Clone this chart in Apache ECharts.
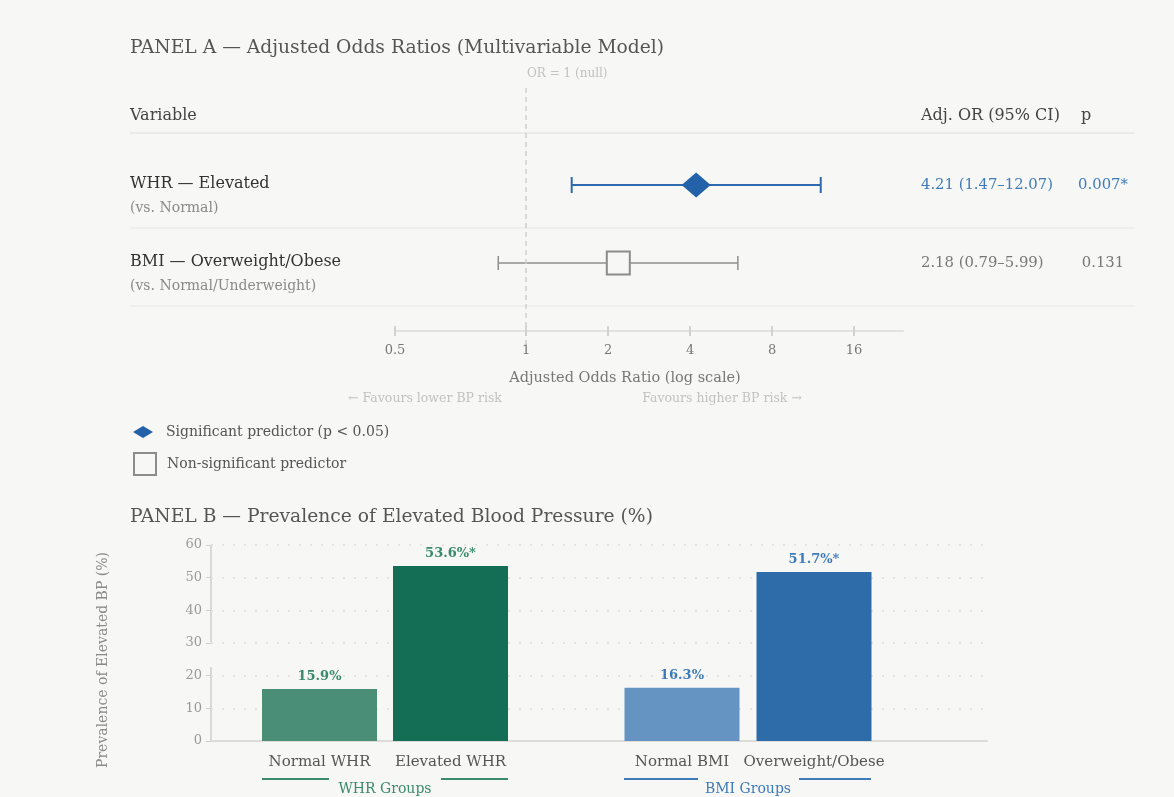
<!DOCTYPE html>
<html><head><meta charset="utf-8">
<script src="https://cdn.jsdelivr.net/npm/echarts@6/dist/echarts.min.js"></script>
<style>html,body{margin:0;padding:0;background:#f7f7f5;}#c{width:1174px;height:797px;}</style>
</head><body><div id="c"></div>
<script>
// ---- Panel A data ----
const variables = ['WHR — Elevated', 'BMI — Overweight/Obese'];
const references = ['(vs. Normal)', '(vs. Normal/Underweight)'];
const oddsRatios = [4.21, 2.18];
const ciLower = [1.47, 0.79];
const ciUpper = [12.07, 5.99];
const pValues = [0.007, 0.131];
const orTickValues = [0.33, 1, 2, 4, 8, 16];
const orTickLabels = ['0.5', '1', '2', '4', '8', '16'];
// ---- Panel B data ----
const whrCategories = ['Normal WHR', 'Elevated WHR'];
const whrPrevalence = [15.9, 53.6];
const whrSignificant = [false, true];
const bmiCategories = ['Normal BMI', 'Overweight/Obese'];
const bmiPrevalence = [16.3, 51.7];
const bmiSignificant = [false, true];

const FONT = 'DejaVu Serif';
const BG = '#f7f7f5';
const BLUE = '#2361a8';
const GREY = '#8c8c8a';
const GREEN_TXT = '#3a8a6e';
const BLUE_TXT = '#3f7bb9';
const whrColors = ['#4a8e78', '#136e55'];
const bmiColors = ['#6594c2', '#2e6ba9'];
const OR_MIN = 0.33, OR_MAX = 24.2;

const sig = pValues.map(p => p < 0.05);
const fmt = v => v.toFixed(2);

const chart = echarts.init(document.getElementById('c'), null, {renderer: 'canvas'});

const lineG = (x1, y1, x2, y2, color, w) => ({type: 'line', shape: {x1, y1, x2, y2}, style: {stroke: color, lineWidth: w}, silent: true});
const textG = (x, y, text, size, color, align) => ({type: 'text', x, y, style: {text, font: `${size}px "${FONT}"`, fill: color, align: align || 'left', verticalAlign: 'middle'}, silent: true});

const option = {
  backgroundColor: BG,
  animation: false,
  textStyle: {fontFamily: FONT},
  title: [
    {text: 'PANEL A — Adjusted Odds Ratios (Multivariable Model)', left: 125, top: 34, padding: [5, 5, 5, 5], textStyle: {fontFamily: FONT, fontSize: 18.7, fontWeight: 'normal', color: '#555'}},
    {text: 'OR = 1 (null)', left: 522, top: 63, textStyle: {fontFamily: FONT, fontSize: 12, fontWeight: 'normal', color: '#c2c2c0'}},
    {text: 'PANEL B — Prevalence of Elevated Blood Pressure (%)', left: 125, top: 503, textStyle: {fontFamily: FONT, fontSize: 18.7, fontWeight: 'normal', color: '#555'}}
  ],
  legend: [
    {left: 133, top: 425, padding: 0, orient: 'vertical', selectedMode: false, itemWidth: 20, itemHeight: 12,
     data: [{name: 'Significant predictor (p < 0.05)', icon: 'diamond'}],
     textStyle: {fontFamily: FONT, fontSize: 14, color: '#555', padding: [0, 0, 0, 8]}},
    {left: 133, top: 452, padding: 0, orient: 'vertical', selectedMode: false, itemWidth: 22, itemHeight: 22,
     data: [{name: 'Non-significant predictor', icon: 'rect', itemStyle: {color: BG, borderColor: GREY, borderWidth: 2}}],
     textStyle: {fontFamily: FONT, fontSize: 14, color: '#555', padding: [0, 0, 0, 6]}}
  ],
  grid: [
    {left: 395, width: 508, top: 146, height: 156},
    {left: 395, width: 508, top: 88, height: 257},
    {left: 211, width: 776, top: 545, height: 196},
    {left: 254, width: 262, top: 545, height: 196},
    {left: 616, width: 264, top: 545, height: 196}
  ],
  xAxis: [
    {gridIndex: 0, type: 'log', logBase: 2, min: OR_MIN, max: OR_MAX, position: 'bottom', offset: 24,
     axisLine: {show: false}, splitLine: {show: false},
     axisTick: {show: true, customValues: orTickValues, length: 10, lineStyle: {color: '#c8c8c6', width: 1.5}},
     axisLabel: {customValues: orTickValues, formatter: v => orTickLabels[orTickValues.findIndex(t => Math.abs(t - v) < 1e-6)], margin: 18, fontSize: 13, color: '#777', fontFamily: FONT},
     name: 'Adjusted Odds Ratio (log scale)', nameLocation: 'middle', nameGap: 45,
     nameTextStyle: {fontFamily: FONT, fontSize: 14.5, color: '#777', padding: [0, 48, 0, 0]}},
    {gridIndex: 0, type: 'log', logBase: 2, min: OR_MIN, max: OR_MAX, position: 'bottom', offset: 29,
     axisLine: {show: true, lineStyle: {color: '#e2e2e0', width: 2}}, axisTick: {show: false}, axisLabel: {show: false}, splitLine: {show: false}},
    {gridIndex: 1, type: 'log', logBase: 2, min: OR_MIN, max: OR_MAX, show: false},
    {gridIndex: 2, type: 'category', data: [''], axisLine: {lineStyle: {color: '#dcdcda', width: 2}}, axisTick: {show: false}, axisLabel: {show: false}},
    {gridIndex: 3, type: 'category', data: whrCategories, axisLine: {show: false}, axisTick: {show: false},
     axisLabel: {interval: 0, fontFamily: FONT, fontSize: 15, color: '#555', margin: 14},
     name: 'WHR Groups', nameLocation: 'middle', nameGap: 41, nameTextStyle: {fontFamily: FONT, fontSize: 14, color: GREEN_TXT}},
    {gridIndex: 4, type: 'category', data: bmiCategories, axisLine: {show: false}, axisTick: {show: false},
     axisLabel: {interval: 0, fontFamily: FONT, fontSize: 15, color: '#555', margin: 14},
     name: 'BMI Groups', nameLocation: 'middle', nameGap: 41, nameTextStyle: {fontFamily: FONT, fontSize: 14, color: BLUE_TXT}}
  ],
  yAxis: [
    {gridIndex: 0, type: 'category', data: variables, inverse: true, axisLine: {show: false}, axisTick: {show: false},
     axisLabel: {align: 'left', margin: 265, lineHeight: 24, padding: [22, 0, 0, 0],
       formatter: (v, i) => `{name|${v}}\n{sub|${references[i]}}`,
       rich: {name: {fontFamily: FONT, fontSize: 16, color: '#333', lineHeight: 24},
              sub: {fontFamily: FONT, fontSize: 14, color: '#8a8a88', lineHeight: 24}}}},
    {gridIndex: 0, type: 'category', data: variables, inverse: true, position: 'right', axisLine: {show: false}, axisTick: {show: false},
     axisLabel: {margin: 18,
       formatter: (v, i) => {
         const s = sig[i] ? 'S' : 'N';
         return `{or${s}|${fmt(oddsRatios[i])} (${fmt(ciLower[i])}–${fmt(ciUpper[i])})}{p${s}|${pValues[i].toFixed(3)}${sig[i] ? '*' : ''}}`;
       },
       rich: {
         orS: {fontFamily: FONT, fontSize: 14.8, color: BLUE_TXT, width: 154},
         pS: {fontFamily: FONT, fontSize: 14.8, color: BLUE_TXT, width: 56, align: 'center'},
         orN: {fontFamily: FONT, fontSize: 14.8, color: '#777', width: 154},
         pN: {fontFamily: FONT, fontSize: 14.8, color: '#777', width: 56, align: 'center'}
       }}},
    {gridIndex: 1, type: 'value', min: 0, max: 1, show: false},
    {gridIndex: 2, type: 'value', min: 0, max: 60, interval: 10,
     axisLine: {show: false}, axisTick: {show: true, length: 5, lineStyle: {color: '#cfcfcd'}},
     axisLabel: {fontFamily: FONT, fontSize: 13, color: '#9a9a98', margin: 9},
     splitLine: {show: true, lineStyle: {color: '#e3e3e1', width: 2, type: [2, 9]}}},
    {gridIndex: 3, type: 'value', min: 0, max: 60, show: false},
    {gridIndex: 4, type: 'value', min: 0, max: 60, show: false}
  ],
  series: [
    {type: 'custom', xAxisIndex: 0, yAxisIndex: 0, z: 3,
     data: variables.map((v, i) => [ciLower[i], ciUpper[i], i, sig[i] ? 1 : 0]),
     encode: {x: [0, 1], y: 2},
     renderItem: (params, api) => {
       const yi = api.value(2);
       const a = api.coord([api.value(0), yi]);
       const b = api.coord([api.value(1), yi]);
       const s = api.value(3) === 1;
       const color = s ? '#2c69ae' : '#8f8f8d';
       const lw = s ? 2 : 1.5;
       const h = s ? 8 : 7;
       return {type: 'group', children: [
         {type: 'line', shape: {x1: a[0], y1: a[1], x2: b[0], y2: b[1]}, style: {stroke: color, lineWidth: lw}},
         {type: 'line', shape: {x1: a[0], y1: a[1] - h, x2: a[0], y2: a[1] + h}, style: {stroke: color, lineWidth: lw}},
         {type: 'line', shape: {x1: b[0], y1: b[1] - h, x2: b[0], y2: b[1] + h}, style: {stroke: color, lineWidth: lw}}
       ]};
     }},
    {name: 'Significant predictor (p < 0.05)', type: 'scatter', xAxisIndex: 0, yAxisIndex: 0, z: 5,
     symbol: 'diamond', symbolSize: [29, 25], itemStyle: {color: BLUE, opacity: 1},
     data: variables.map((v, i) => sig[i] ? [oddsRatios[i], i] : null).filter(d => d)},
    {name: 'Non-significant predictor', type: 'scatter', xAxisIndex: 0, yAxisIndex: 0, z: 5,
     symbol: 'rect', symbolSize: 23, itemStyle: {color: BG, borderColor: GREY, borderWidth: 2, opacity: 1},
     data: variables.map((v, i) => !sig[i] ? [oddsRatios[i], i] : null).filter(d => d)},
    {type: 'line', xAxisIndex: 2, yAxisIndex: 2, data: [], silent: true,
     markLine: {symbol: 'none', silent: true, label: {show: false},
       lineStyle: {color: '#cfcfcd', type: [5, 4], width: 1.5}, data: [{xAxis: 1}]}},
    {type: 'bar', xAxisIndex: 4, yAxisIndex: 4, barWidth: 115,
     data: whrPrevalence.map((v, i) => ({value: v, itemStyle: {color: whrColors[i]}})),
     label: {show: true, position: 'top', distance: 6, fontFamily: FONT, fontSize: 13, fontWeight: 'bold', color: GREEN_TXT,
       formatter: p => `${p.value.toFixed(1)}%${whrSignificant[p.dataIndex] ? '*' : ''}`}},
    {type: 'bar', xAxisIndex: 5, yAxisIndex: 5, barWidth: 115,
     data: bmiPrevalence.map((v, i) => ({value: v, itemStyle: {color: bmiColors[i]}})),
     label: {show: true, position: 'top', distance: 6, fontFamily: FONT, fontSize: 13, fontWeight: 'bold', color: BLUE_TXT,
       formatter: p => `${p.value.toFixed(1)}%${bmiSignificant[p.dataIndex] ? '*' : ''}`}}
  ],
  graphic: [
    textG(130, 116, 'Variable', 16, '#444'),
    textG(921, 116, 'Adj. OR (95% CI)', 16, '#444'),
    textG(1081, 116, 'p', 16, '#444'),
    lineG(130, 133, 1135, 133, '#e6e6e4', 1.5),
    lineG(130, 228, 1135, 228, '#e8e8e6', 1.2),
    lineG(130, 306, 1135, 306, '#e8e8e6', 1.2),
    textG(425, 399, '← Favours lower BP risk', 12.5, '#c2c2c0', 'center'),
    textG(722, 399, 'Favours higher BP risk →', 12.5, '#c2c2c0', 'center'),
    {type: 'text', x: 103, y: 660, rotation: Math.PI / 2, style: {text: 'Prevalence of Elevated BP (%)', font: `14px "${FONT}"`, fill: '#8a8a88', align: 'center', verticalAlign: 'middle'}, silent: true},
    lineG(211, 545, 211, 642, '#d8d8d6', 2),
    lineG(211, 667, 211, 741, '#d8d8d6', 2),
    lineG(262, 779, 329, 779, GREEN_TXT, 2),
    lineG(441, 779, 508, 779, GREEN_TXT, 2),
    lineG(624, 779, 698, 779, BLUE_TXT, 2),
    lineG(799, 779, 871, 779, BLUE_TXT, 2)
  ]
};
chart.setOption(option);
</script></body></html>
